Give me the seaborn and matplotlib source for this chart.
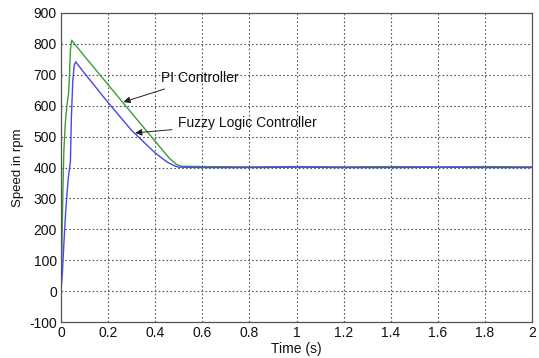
import matplotlib
matplotlib.use("Agg")
import matplotlib.pyplot as plt
import seaborn as sns
import pandas as pd

# PI controller response (time in s, speed in rpm)
pi_time = [0.0, 0.004, 0.008, 0.012, 0.018, 0.025, 0.032, 0.036, 0.040, 0.045, 0.10, 0.20, 0.30, 0.40, 0.46, 0.49, 0.51, 0.60, 0.80, 1.00, 1.20, 1.40, 1.60, 1.80, 2.00]
pi_speed = [0, 150, 320, 450, 540, 600, 640, 700, 780, 812, 760, 668, 576, 485, 430, 410, 404, 403, 402, 403, 402, 403, 402, 403, 402]

# Fuzzy logic controller response
fz_time = [0.0, 0.006, 0.012, 0.020, 0.030, 0.040, 0.044, 0.050, 0.056, 0.062, 0.10, 0.20, 0.30, 0.40, 0.45, 0.48, 0.50, 0.60, 0.80, 1.00, 1.20, 1.40, 1.60, 1.80, 2.00]
fz_speed = [0, 60, 150, 260, 360, 420, 560, 680, 730, 742, 705, 610, 520, 447, 418, 406, 401, 400, 400, 401, 400, 400, 401, 400, 400]

x_ticks = [0, 0.2, 0.4, 0.6, 0.8, 1, 1.2, 1.4, 1.6, 1.8, 2]
x_ticklabels = ["0", "0.2", "0.4", "0.6", "0.8", "1", "1.2", "1.4", "1.6", "1.8", "2"]
y_ticks = [-100, 0, 100, 200, 300, 400, 500, 600, 700, 800, 900]

df = pd.concat([
    pd.DataFrame({"t": pi_time, "speed": pi_speed, "ctrl": "PI Controller"}),
    pd.DataFrame({"t": fz_time, "speed": fz_speed, "ctrl": "Fuzzy Logic Controller"}),
])

sns.set_theme(style="white")
plt.rcParams["font.family"] = ["Liberation Sans", "DejaVu Sans"]
plt.rcParams["axes.unicode_minus"] = False

fig = plt.figure(figsize=(5.39, 3.58), dpi=100)
ax = fig.add_axes([61 / 539, 1 - 322 / 358, 471 / 539, 309 / 358])

sns.lineplot(data=df, x="t", y="speed", hue="ctrl",
             palette={"PI Controller": "#3c9c3c", "Fuzzy Logic Controller": "#4646ee"},
             linewidth=1.0, ax=ax, legend=False, estimator=None, sort=False)

ax.set_xlim(0, 2)
ax.set_ylim(-100, 900)
ax.set_xticks(x_ticks)
ax.set_xticklabels(x_ticklabels)
ax.set_yticks(y_ticks)
ax.grid(True, color="#555555", linestyle=(0, (1.5, 2)), linewidth=0.8)
ax.tick_params(direction="in", length=3, labelsize=10, colors="#111111", pad=3)
for s in ax.spines.values():
    s.set_color("#555555")
    s.set_linewidth(0.9)

ax.set_xlabel("Time (s)", fontsize=10, labelpad=1, color="#111111")
ax.set_ylabel("Speed in rpm", fontsize=9.5, labelpad=4, color="#111111")

ax.annotate("PI Controller", xy=(0.265, 612), xytext=(0.425, 690),
            fontsize=10, va="center", ha="left", color="#111111",
            arrowprops=dict(arrowstyle="-|>", color="#222222", lw=0.7,
                            mutation_scale=10, shrinkA=2, shrinkB=0))
ax.annotate("Fuzzy Logic Controller", xy=(0.315, 512), xytext=(0.497, 544),
            fontsize=10, va="center", ha="left", color="#111111",
            arrowprops=dict(arrowstyle="-|>", color="#222222", lw=0.7,
                            mutation_scale=10, shrinkA=2, shrinkB=0))

fig.savefig("out.png", dpi=100)
